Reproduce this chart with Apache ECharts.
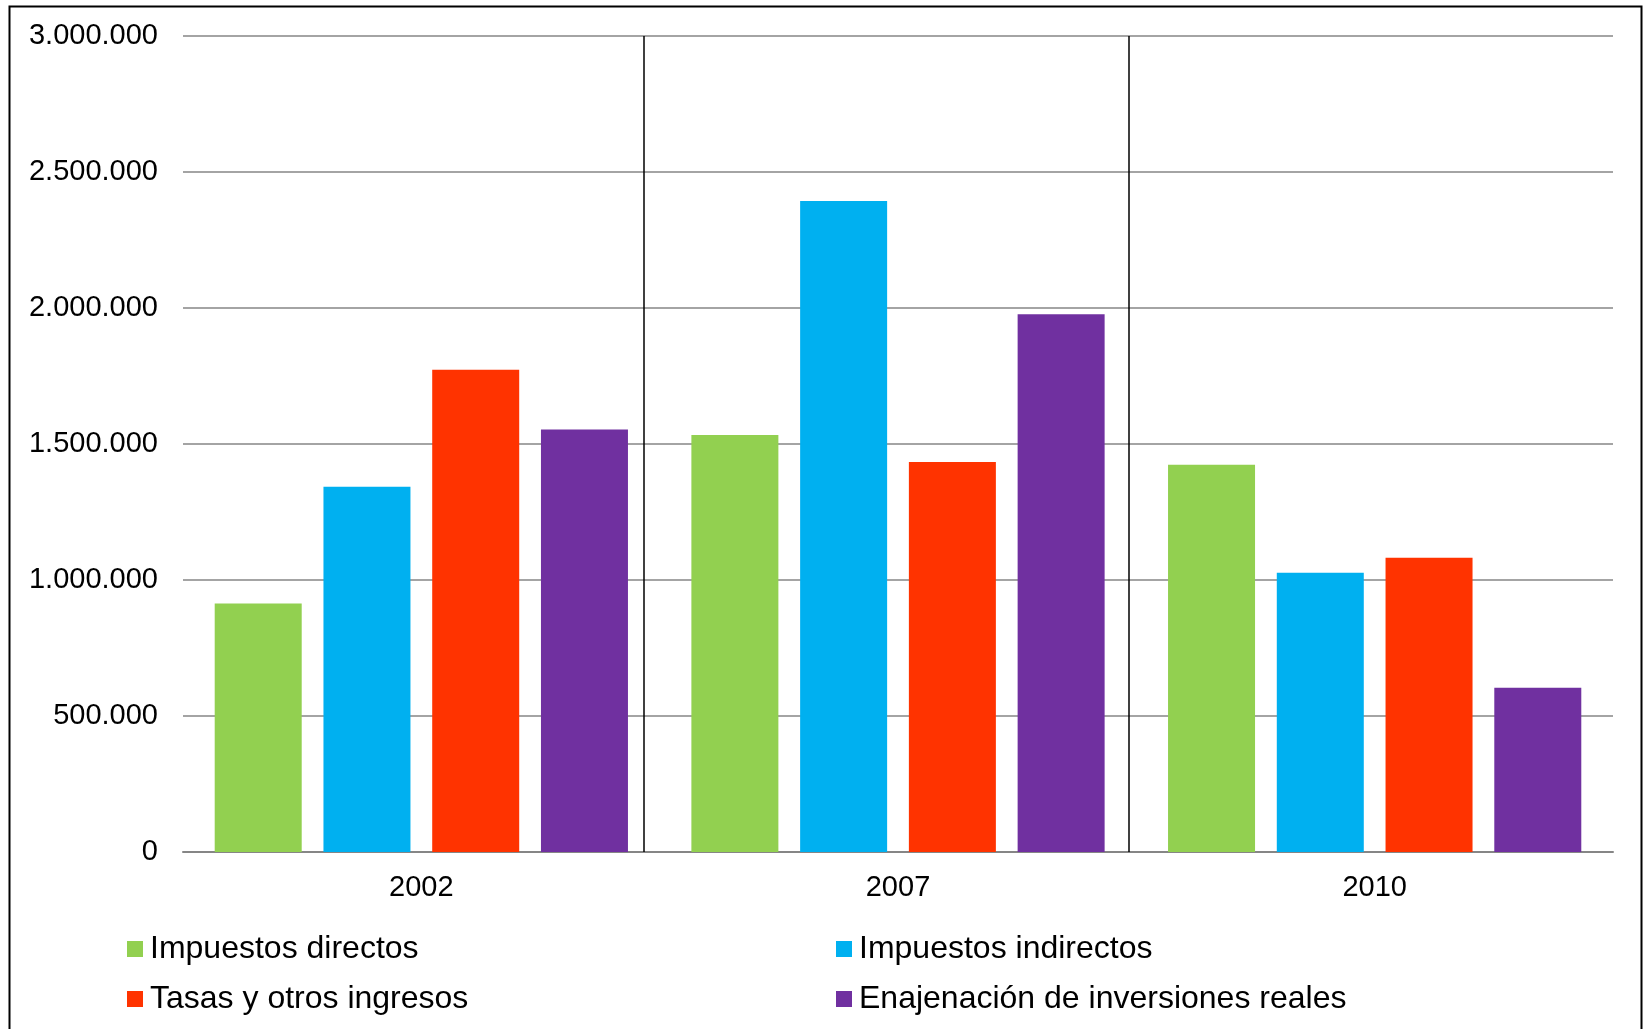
<!DOCTYPE html>
<html>
<head>
<meta charset="utf-8">
<script src="https://cdn.jsdelivr.net/npm/echarts@6/dist/echarts.min.js"></script>
<style>
html,body{margin:0;padding:0;background:#fff;}
#chart{width:1644px;height:1029px;}
</style>
</head>
<body>
<div id="chart"></div>
<script>
const categories = ['2002', '2007', '2010'];
const seriesNames = ['Impuestos directos', 'Impuestos indirectos', 'Tasas y otros ingresos', 'Enajenación de inversiones reales'];
const impuestosDirectos = [914000, 1533000, 1424000];
const impuestosIndirectos = [1343000, 2393000, 1027000];
const tasasOtrosIngresos = [1773000, 1434000, 1082000];
const enajenacionInversiones = [1553000, 1977000, 604000];
const yTicks = [0, 500000, 1000000, 1500000, 2000000, 2500000, 3000000];
const separatorPositions = [0.967, 1.984];

const colors = ['#92D050', '#00B0F0', '#FF3300', '#7030A0'];
const seriesData = [impuestosDirectos, impuestosIndirectos, tasasOtrosIngresos, enajenacionInversiones];
const FONT = '"Liberation Sans", Arial, sans-serif';

function fmt(v) {
  return String(v).replace(/\B(?=(\d{3})+(?!\d))/g, '.');
}

const chart = echarts.init(document.getElementById('chart'), null, {renderer: 'canvas'});

const series = seriesNames.map((name, i) => ({
  name: name,
  type: 'bar',
  xAxisIndex: 0,
  yAxisIndex: 0,
  data: seriesData[i],
  barWidth: 87,
  barGap: '25%',
  itemStyle: {color: colors[i]},
  silent: true
}));

series.push({
  name: 'separators',
  type: 'line',
  xAxisIndex: 1,
  yAxisIndex: 0,
  data: [],
  silent: true,
  markLine: {
    silent: true,
    symbol: ['none', 'none'],
    label: {show: false},
    lineStyle: {color: '#000', width: 1.5, type: 'solid'},
    data: separatorPositions.map(p => [
      {coord: [p, yTicks[0]]},
      {coord: [p, yTicks[yTicks.length - 1]]}
    ])
  }
});

const legendCommon = {
  orient: 'vertical',
  top: 931,
  padding: 0,
  itemWidth: 16,
  itemHeight: 16,
  itemGap: 14,
  icon: 'rect',
  textStyle: {fontFamily: FONT, fontSize: 32, color: '#000', lineHeight: 36, padding: [0, 0, 0, 2]},
  selectedMode: false
};

chart.setOption({
  animation: false,
  backgroundColor: '#fff',
  textStyle: {fontFamily: FONT},
  graphic: [{
    type: 'rect',
    shape: {x: 9.5, y: 6.5, width: 1632, height: 1060},
    style: {fill: 'none', stroke: '#000', lineWidth: 2},
    silent: true,
    z: 100
  }],
  grid: {left: 183, right: 31, top: 36, bottom: 177, containLabel: false},
  legend: [
    Object.assign({}, legendCommon, {left: 127, data: [seriesNames[0], seriesNames[2]]}),
    Object.assign({}, legendCommon, {left: 836, data: [seriesNames[1], seriesNames[3]]})
  ],
  xAxis: [{
    type: 'category',
    data: categories,
    axisLine: {show: true, lineStyle: {color: '#868686', width: 2}},
    axisTick: {show: false},
    axisLabel: {fontFamily: FONT, fontSize: 29, color: '#000', margin: 21}
  }, {
    type: 'value',
    min: 0,
    max: categories.length,
    show: false
  }],
  yAxis: {
    type: 'value',
    min: yTicks[0],
    max: yTicks[yTicks.length - 1],
    interval: yTicks[1] - yTicks[0],
    axisLine: {show: false},
    axisTick: {show: false},
    splitLine: {show: true, lineStyle: {color: '#868686', width: 1.5}},
    axisLabel: {fontFamily: FONT, fontSize: 29, color: '#000', margin: 25, formatter: fmt}
  },
  series: series
});
</script>
</body>
</html>
